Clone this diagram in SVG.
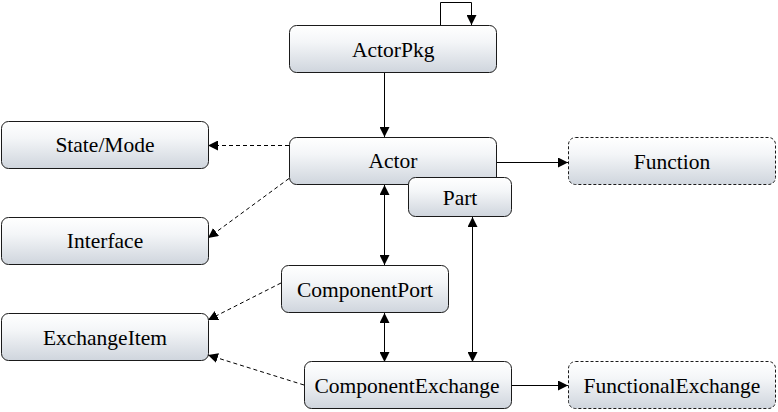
<svg xmlns="http://www.w3.org/2000/svg" width="778" height="412" viewBox="0 0 778 412">
<defs>
<linearGradient id="g" x1="0" y1="0" x2="0" y2="1">
<stop offset="0" stop-color="#ffffff"/>
<stop offset="0.35" stop-color="#f4f6f8"/>
<stop offset="1" stop-color="#cfd5dd"/>
</linearGradient>
<marker id="ah" viewBox="0 0 10 10" refX="10" refY="5" markerWidth="10" markerHeight="10" markerUnits="userSpaceOnUse" orient="auto-start-reverse">
<path d="M0,0 L10,5 L0,10 Z" fill="#000"/>
</marker>
<style>
.box{fill:url(#g);stroke:#1a1a1a;stroke-width:1}
.dash{stroke-dasharray:3,2}
.c{fill:none;stroke:#000;stroke-width:1}
.s{marker-end:url(#ah)}
.b{marker-start:url(#ah);marker-end:url(#ah)}
.dd{stroke-dasharray:4,3;marker-end:url(#ah)}
</style>
</defs>
<rect width="778" height="412" fill="#fff"/>
<g id="connectors" class="c">
<path class="s" d="M440.5,25 V2.5 H471.5 V25"/>
<path class="s" d="M384.5,73 V137"/>
<path class="dd" d="M289,145.5 H208"/>
<path class="dd" d="M289,178.5 L208,238"/>
<path class="s" d="M496,162.5 H568"/>
<path class="b" d="M384.5,185 V265"/>
<path class="b" d="M472.5,217 V362"/>
<path class="b" d="M384.5,313 V362"/>
<path class="dd" d="M281,283 L208,320"/>
<path class="dd" d="M304,385 L208,355"/>
<path class="s" d="M512,385.5 H568"/>
</g>
<g id="ActorPkg"><rect class="box" x="289.5" y="25.5" width="207" height="47" rx="7"/><text x="352" y="57" font-family="Liberation Serif" font-size="21.5">ActorPkg</text></g>
<g id="Actor"><rect class="box" x="289.5" y="137.5" width="207" height="47" rx="7"/><text x="368.5" y="168" font-family="Liberation Serif" font-size="21.5">Actor</text></g>
<g id="Part"><rect class="box" x="408.5" y="177.5" width="103" height="39" rx="7"/><text x="442.7" y="205" font-family="Liberation Serif" font-size="21.5">Part</text></g>
<g id="StateMode"><rect class="box" x="1.5" y="121.5" width="207" height="47" rx="7"/><text x="55.4" y="152" font-family="Liberation Serif" font-size="21.5">State/Mode</text></g>
<g id="Interface"><rect class="box" x="1.5" y="217.5" width="207" height="47" rx="7"/><text x="66.8" y="248" font-family="Liberation Serif" font-size="21.5">Interface</text></g>
<g id="ComponentPort"><rect class="box" x="281.5" y="265.5" width="167" height="47" rx="7"/><text x="296.9" y="297" font-family="Liberation Serif" font-size="21.5">ComponentPort</text></g>
<g id="ExchangeItem"><rect class="box" x="1.5" y="313.5" width="207" height="47" rx="7"/><text x="42.9" y="345" font-family="Liberation Serif" font-size="21.5">ExchangeItem</text></g>
<g id="ComponentExchange"><rect class="box" x="304.5" y="361.5" width="207" height="47" rx="7"/><text x="314.5" y="393" font-family="Liberation Serif" font-size="21.5">ComponentExchange</text></g>
<g id="Function"><rect class="box dash" x="568.5" y="137.5" width="207" height="47" rx="7"/><text x="633.8" y="169" font-family="Liberation Serif" font-size="21.5">Function</text></g>
<g id="FunctionalExchange"><rect class="box dash" x="568.5" y="361.5" width="207" height="47" rx="7"/><text x="583.6" y="393" font-family="Liberation Serif" font-size="21.5">FunctionalExchange</text></g>
</svg>
